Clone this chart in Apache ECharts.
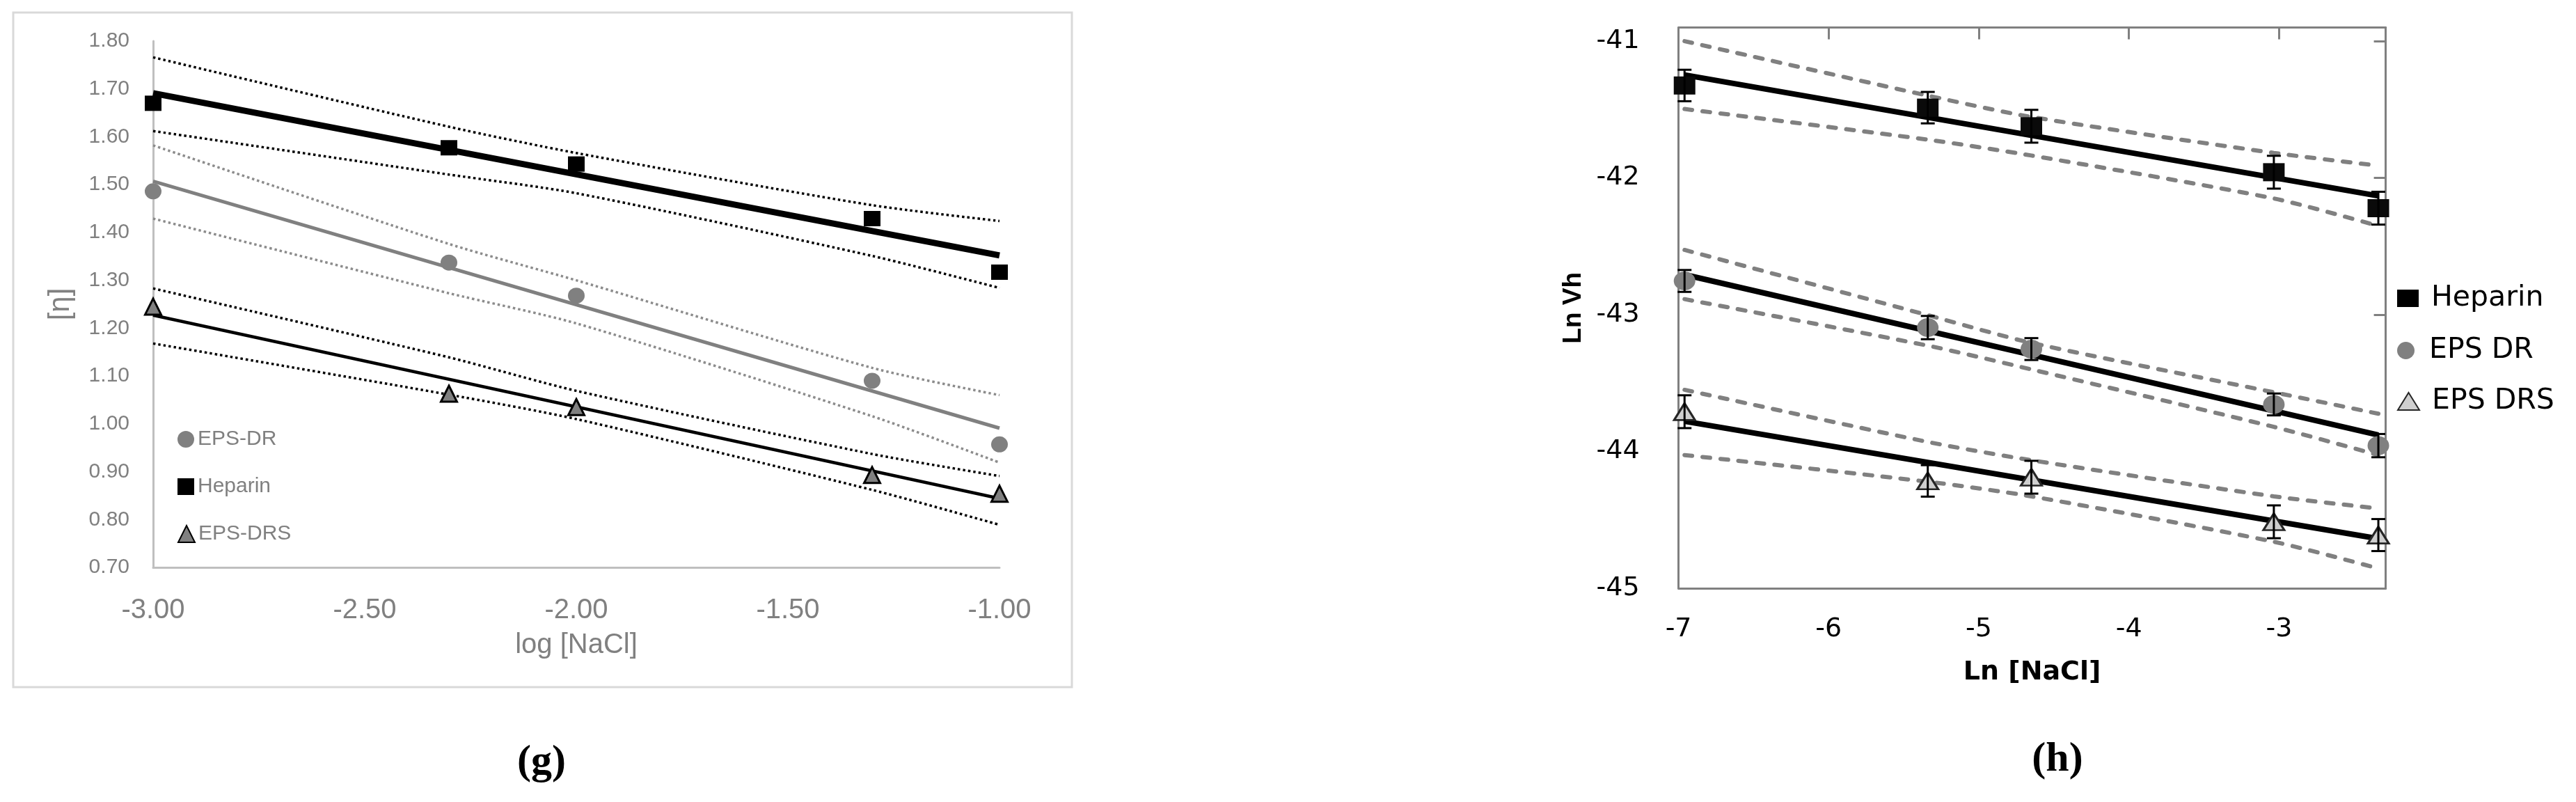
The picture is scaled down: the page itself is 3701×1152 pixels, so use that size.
<!DOCTYPE html>
<html>
<head>
<meta charset="utf-8">
<script src="https://cdn.jsdelivr.net/npm/echarts@6/dist/echarts.min.js"></script>
<style>
html,body{margin:0;padding:0;background:#fff;}
#chart{width:3701px;height:1152px;}
</style>
</head>
<body>
<div id="chart"></div>
<script>
// ---------- Panel (g): [η] vs log [NaCl] ----------
const gX = [-3.00, -2.301, -2.00, -1.301, -1.00];
const gHeparin = [1.670, 1.577, 1.543, 1.429, 1.317];
const gEpsDR = [1.486, 1.337, 1.268, 1.090, 0.957];
const gEpsDRS = [1.245, 1.063, 1.035, 0.893, 0.854];
const gFitX = [-3.00, -1.00];
const gHeparinFit = [1.691, 1.352];
const gEpsDRFit = [1.507, 0.991];
const gEpsDRSFit = [1.227, 0.844];
const gHeparinUpper = [1.766, 1.621, 1.566, 1.457, 1.424];
const gHeparinLower = [1.612, 1.521, 1.482, 1.351, 1.284];
const gEpsDRUpper = [1.582, 1.376, 1.300, 1.117, 1.060];
const gEpsDRLower = [1.429, 1.273, 1.210, 1.016, 0.919];
const gEpsDRSUpper = [1.283, 1.139, 1.069, 0.937, 0.891];
const gEpsDRSLower = [1.168, 1.061, 1.010, 0.862, 0.789];
const gXTicks = [-3.00, -2.50, -2.00, -1.50, -1.00];
const gYTicks = [0.70, 0.80, 0.90, 1.00, 1.10, 1.20, 1.30, 1.40, 1.50, 1.60, 1.70, 1.80];

// ---------- Panel (h): Ln Vh vs Ln [NaCl] ----------
const hX = [-6.96, -5.34, -4.65, -3.035, -2.339];
const hHeparin = [-41.324, -41.486, -41.622, -41.958, -42.221];
const hHeparinErr = [0.115, 0.115, 0.120, 0.120, 0.120];
const hEpsDR = [-42.753, -43.094, -43.251, -43.656, -43.957];
const hEpsDRErr = [0.080, 0.085, 0.080, 0.080, 0.085];
const hEpsDRS = [-43.709, -44.215, -44.188, -44.514, -44.611];
const hEpsDRSErr = [0.120, 0.115, 0.120, 0.120, 0.117];
const hFitX = [-6.96, -2.339];
const hHeparinFit = [-41.247, -42.131];
const hEpsDRFit = [-42.707, -43.880];
const hEpsDRSFit = [-43.779, -44.637];
const hHeparinUpper = [-41.000, -41.398, -41.554, -41.817, -41.910];
const hHeparinLower = [-41.496, -41.720, -41.836, -42.150, -42.351];
const hEpsDRUpper = [-42.526, -43.003, -43.206, -43.567, -43.724];
const hEpsDRLower = [-42.886, -43.226, -43.400, -43.820, -44.026];
const hEpsDRSUpper = [-43.549, -43.930, -44.064, -44.328, -44.416];
const hEpsDRSLower = [-44.026, -44.221, -44.328, -44.660, -44.855];
const hXTicks = [-7, -6, -5, -4, -3];
const hYTicks = [-45, -44, -43, -42, -41];

const zip = (xs, ys) => xs.map((x, i) => [x, ys[i]]);
const LF = 'Liberation Sans, Arial, sans-serif';
const RF = 'DejaVu Sans, sans-serif';

function lineS(xi, yi, xs, ys, color, width, type, smooth, z) {
  return {
    type: 'line', xAxisIndex: xi, yAxisIndex: yi, data: zip(xs, ys),
    symbol: 'none', silent: true, smooth: smooth || false, z: z || 2,
    lineStyle: { color: color, width: width, type: type, cap: type === 'solid' ? 'butt' : (Array.isArray(type) && type[0] > 8 ? 'round' : 'butt') }
  };
}
function errS(xs, ys, es) {
  return {
    type: 'custom', xAxisIndex: 1, yAxisIndex: 1, z: 6, silent: true,
    encode: { x: 0, y: [1, 2] },
    data: xs.map((x, i) => [x, ys[i] - es[i], ys[i] + es[i]]),
    renderItem: function (params, api) {
      const lo = api.coord([api.value(0), api.value(1)]);
      const hi = api.coord([api.value(0), api.value(2)]);
      const hw = 10;
      const st = { stroke: '#000', lineWidth: 3, fill: null };
      return { type: 'group', children: [
        { type: 'line', shape: { x1: lo[0], y1: lo[1], x2: hi[0], y2: hi[1] }, style: st },
        { type: 'line', shape: { x1: lo[0] - hw, y1: lo[1], x2: lo[0] + hw, y2: lo[1] }, style: st },
        { type: 'line', shape: { x1: hi[0] - hw, y1: hi[1], x2: hi[0] + hw, y2: hi[1] }, style: st }
      ]};
    }
  };
}

const dotG = [3.5, 4];
const dashH = [11, 15];

const series = [
  // panel g bands
  lineS(0, 0, gX, gHeparinUpper, '#000', 3.5, dotG, 0.25),
  lineS(0, 0, gX, gHeparinLower, '#000', 3.5, dotG, 0.25),
  lineS(0, 0, gX, gEpsDRUpper, '#8c8c8c', 3.5, dotG, 0.25),
  lineS(0, 0, gX, gEpsDRLower, '#8c8c8c', 3.5, dotG, 0.25),
  lineS(0, 0, gX, gEpsDRSUpper, '#000', 3.5, dotG, 0.25),
  lineS(0, 0, gX, gEpsDRSLower, '#000', 3.5, dotG, 0.25),
  // panel g fits
  lineS(0, 0, gFitX, gHeparinFit, '#000', 9, 'solid', false, 3),
  lineS(0, 0, gFitX, gEpsDRFit, '#808080', 5, 'solid', false, 3),
  lineS(0, 0, gFitX, gEpsDRSFit, '#000', 4.5, 'solid', false, 3),
  // panel g points
  { name: 'EPS-DR', type: 'scatter', xAxisIndex: 0, yAxisIndex: 0, data: zip(gX, gEpsDR), z: 4,
    symbol: 'circle', symbolSize: [24, 23], itemStyle: { color: '#808080', opacity: 1 } },
  { name: 'Heparin', type: 'scatter', xAxisIndex: 0, yAxisIndex: 0, data: zip(gX, gHeparin), z: 4,
    symbol: 'rect', symbolSize: [24, 22], itemStyle: { color: '#000', opacity: 1 } },
  { name: 'EPS-DRS', type: 'scatter', xAxisIndex: 0, yAxisIndex: 0, data: zip(gX, gEpsDRS), z: 4,
    symbol: 'triangle', symbolSize: [23, 23], itemStyle: { color: '#808080', borderColor: '#000', borderWidth: 3, opacity: 1 } },

  // panel h bands
  lineS(1, 1, hX, hHeparinUpper, '#808080', 6, dashH, 0.25),
  lineS(1, 1, hX, hHeparinLower, '#808080', 6, dashH, 0.25),
  lineS(1, 1, hX, hEpsDRUpper, '#808080', 6, dashH, 0.25),
  lineS(1, 1, hX, hEpsDRLower, '#808080', 6, dashH, 0.25),
  lineS(1, 1, hX, hEpsDRSUpper, '#808080', 6, dashH, 0.25),
  lineS(1, 1, hX, hEpsDRSLower, '#808080', 6, dashH, 0.25),
  // panel h fits
  lineS(1, 1, hFitX, hHeparinFit, '#000', 8, 'solid', false, 3),
  lineS(1, 1, hFitX, hEpsDRFit, '#000', 8, 'solid', false, 3),
  lineS(1, 1, hFitX, hEpsDRSFit, '#000', 8, 'solid', false, 3),
  // panel h points
  { name: 'Heparin', type: 'scatter', xAxisIndex: 1, yAxisIndex: 1, data: zip(hX, hHeparin), z: 4,
    symbol: 'rect', symbolSize: [31, 26], itemStyle: { color: '#0a0a0a', opacity: 1 } },
  { name: 'EPS DR', type: 'scatter', xAxisIndex: 1, yAxisIndex: 1, data: zip(hX, hEpsDR), z: 4,
    symbol: 'circle', symbolSize: [31, 27], itemStyle: { color: '#808080', opacity: 1 } },
  { name: 'EPS DRS', type: 'scatter', xAxisIndex: 1, yAxisIndex: 1, data: zip(hX, hEpsDRS), z: 4,
    symbol: 'triangle', symbolSize: [30, 24], itemStyle: { color: '#cfcfcf', borderColor: '#262626', borderWidth: 3, opacity: 1 } },
  errS(hX, hHeparin, hHeparinErr),
  errS(hX, hEpsDR, hEpsDRErr),
  errS(hX, hEpsDRS, hEpsDRSErr)
];

function legendG(name, cy) {
  return { data: [name], orient: 'vertical', left: 255, top: cy - 15, padding: 0,
    itemWidth: 24, itemHeight: 24, selectedMode: false,
    textStyle: { color: '#808080', fontSize: 30, fontFamily: LF } };
}
function legendH(name, cy) {
  return { data: [name], orient: 'vertical', left: 3444, top: cy - 21, padding: 0,
    itemWidth: 31, itemHeight: 25, selectedMode: false,
    textStyle: { color: '#000', fontSize: 41, fontFamily: RF, padding: [0, 0, 0, 13] } };
}

const option = {
  animation: false,
  backgroundColor: '#fff',
  grid: [
    { left: 220, top: 59, width: 1216, height: 756, containLabel: false },
    { left: 2411.6, top: 39.5, width: 1016, height: 805.5, containLabel: false }
  ],
  xAxis: [
    { type: 'value', gridIndex: 0, min: gXTicks[0], max: gXTicks[gXTicks.length - 1], interval: 0.5,
      axisLine: { onZero: false, lineStyle: { color: '#bfbfbf', width: 3 } },
      axisTick: { show: false }, splitLine: { show: false },
      axisLabel: { color: '#808080', fontSize: 40, fontFamily: LF, margin: 42, formatter: v => v.toFixed(2) },
      name: 'log [NaCl]', nameLocation: 'middle', nameGap: 92,
      nameTextStyle: { color: '#808080', fontSize: 40, fontFamily: LF } },
    { type: 'value', gridIndex: 1, min: hXTicks[0], max: -2.29, interval: 1,
      axisLine: { onZero: false, lineStyle: { color: '#808080', width: 3 } },
      axisTick: { show: false }, splitLine: { show: false },
      axisLabel: { color: '#000', fontSize: 38, fontFamily: RF, margin: 40, showMaxLabel: false,
        formatter: v => (hXTicks.indexOf(Math.round(v)) >= 0 && Math.abs(v - Math.round(v)) < 1e-6) ? String(Math.round(v)) : '' },
      name: 'Ln [NaCl]', nameLocation: 'middle', nameGap: 102,
      nameTextStyle: { color: '#000', fontSize: 38, fontWeight: 'bold', fontFamily: RF } },
    { type: 'value', gridIndex: 1, position: 'top', min: hXTicks[0], max: -2.29, interval: 1,
      axisLine: { onZero: false, lineStyle: { color: '#808080', width: 3 } },
      axisTick: { show: true, inside: true, length: 17, lineStyle: { color: '#808080', width: 3 } },
      axisLabel: { show: false }, splitLine: { show: false } }
  ],
  yAxis: [
    { type: 'value', gridIndex: 0, min: gYTicks[0], max: gYTicks[gYTicks.length - 1], interval: 0.1,
      axisLine: { show: true, onZero: false, lineStyle: { color: '#bfbfbf', width: 3 } },
      axisTick: { show: false }, splitLine: { show: false },
      axisLabel: { color: '#808080', fontSize: 30, fontFamily: LF, margin: 34, formatter: v => v.toFixed(2) },
      name: '[η]', nameLocation: 'middle', nameGap: 112, nameRotate: 90,
      nameTextStyle: { color: '#808080', fontSize: 42, fontFamily: LF } },
    { type: 'value', gridIndex: 1, min: hYTicks[0], max: -40.9, interval: 1,
      axisLine: { show: true, onZero: false, lineStyle: { color: '#808080', width: 3 } },
      axisTick: { show: false }, splitLine: { show: false },
      axisLabel: { color: '#000', fontSize: 38, fontFamily: RF, margin: 56, showMaxLabel: false,
        formatter: v => (Math.abs(v - Math.round(v)) < 1e-6) ? String(Math.round(v)) : '' },
      name: 'Ln Vh', nameLocation: 'middle', nameGap: 132, nameRotate: 90,
      nameTextStyle: { color: '#000', fontSize: 37, fontWeight: 'bold', fontFamily: 'Liberation Sans, sans-serif' } },
    { type: 'value', gridIndex: 1, position: 'right', min: hYTicks[0], max: -40.9, interval: 1,
      axisLine: { show: true, onZero: false, lineStyle: { color: '#808080', width: 3 } },
      axisTick: { show: true, inside: true, length: 17, lineStyle: { color: '#808080', width: 3 } },
      axisLabel: { show: false }, splitLine: { show: false } }
  ],
  legend: [
    legendG('EPS-DR', 631), legendG('Heparin', 699), legendG('EPS-DRS', 767),
    legendH('Heparin', 429), legendH('EPS DR', 504), legendH('EPS DRS', 577)
  ],
  graphic: [
    { type: 'rect', z: -10, shape: { x: 19, y: 18, width: 1521, height: 969 },
      style: { fill: null, stroke: '#d9d9d9', lineWidth: 3 } },
    { type: 'text', x: 778, y: 1095, style: { text: '(g)', fontSize: 60, fontWeight: 'bold',
      fontFamily: 'Liberation Serif, serif', fill: '#000', align: 'center', verticalAlign: 'middle' } },
    { type: 'text', x: 2956, y: 1091, style: { text: '(h)', fontSize: 60, fontWeight: 'bold',
      fontFamily: 'Liberation Serif, serif', fill: '#000', align: 'center', verticalAlign: 'middle' } }
  ],
  series: series
};

const chart = echarts.init(document.getElementById('chart'), null, { renderer: 'canvas' });
chart.setOption(option);
</script>
</body>
</html>
